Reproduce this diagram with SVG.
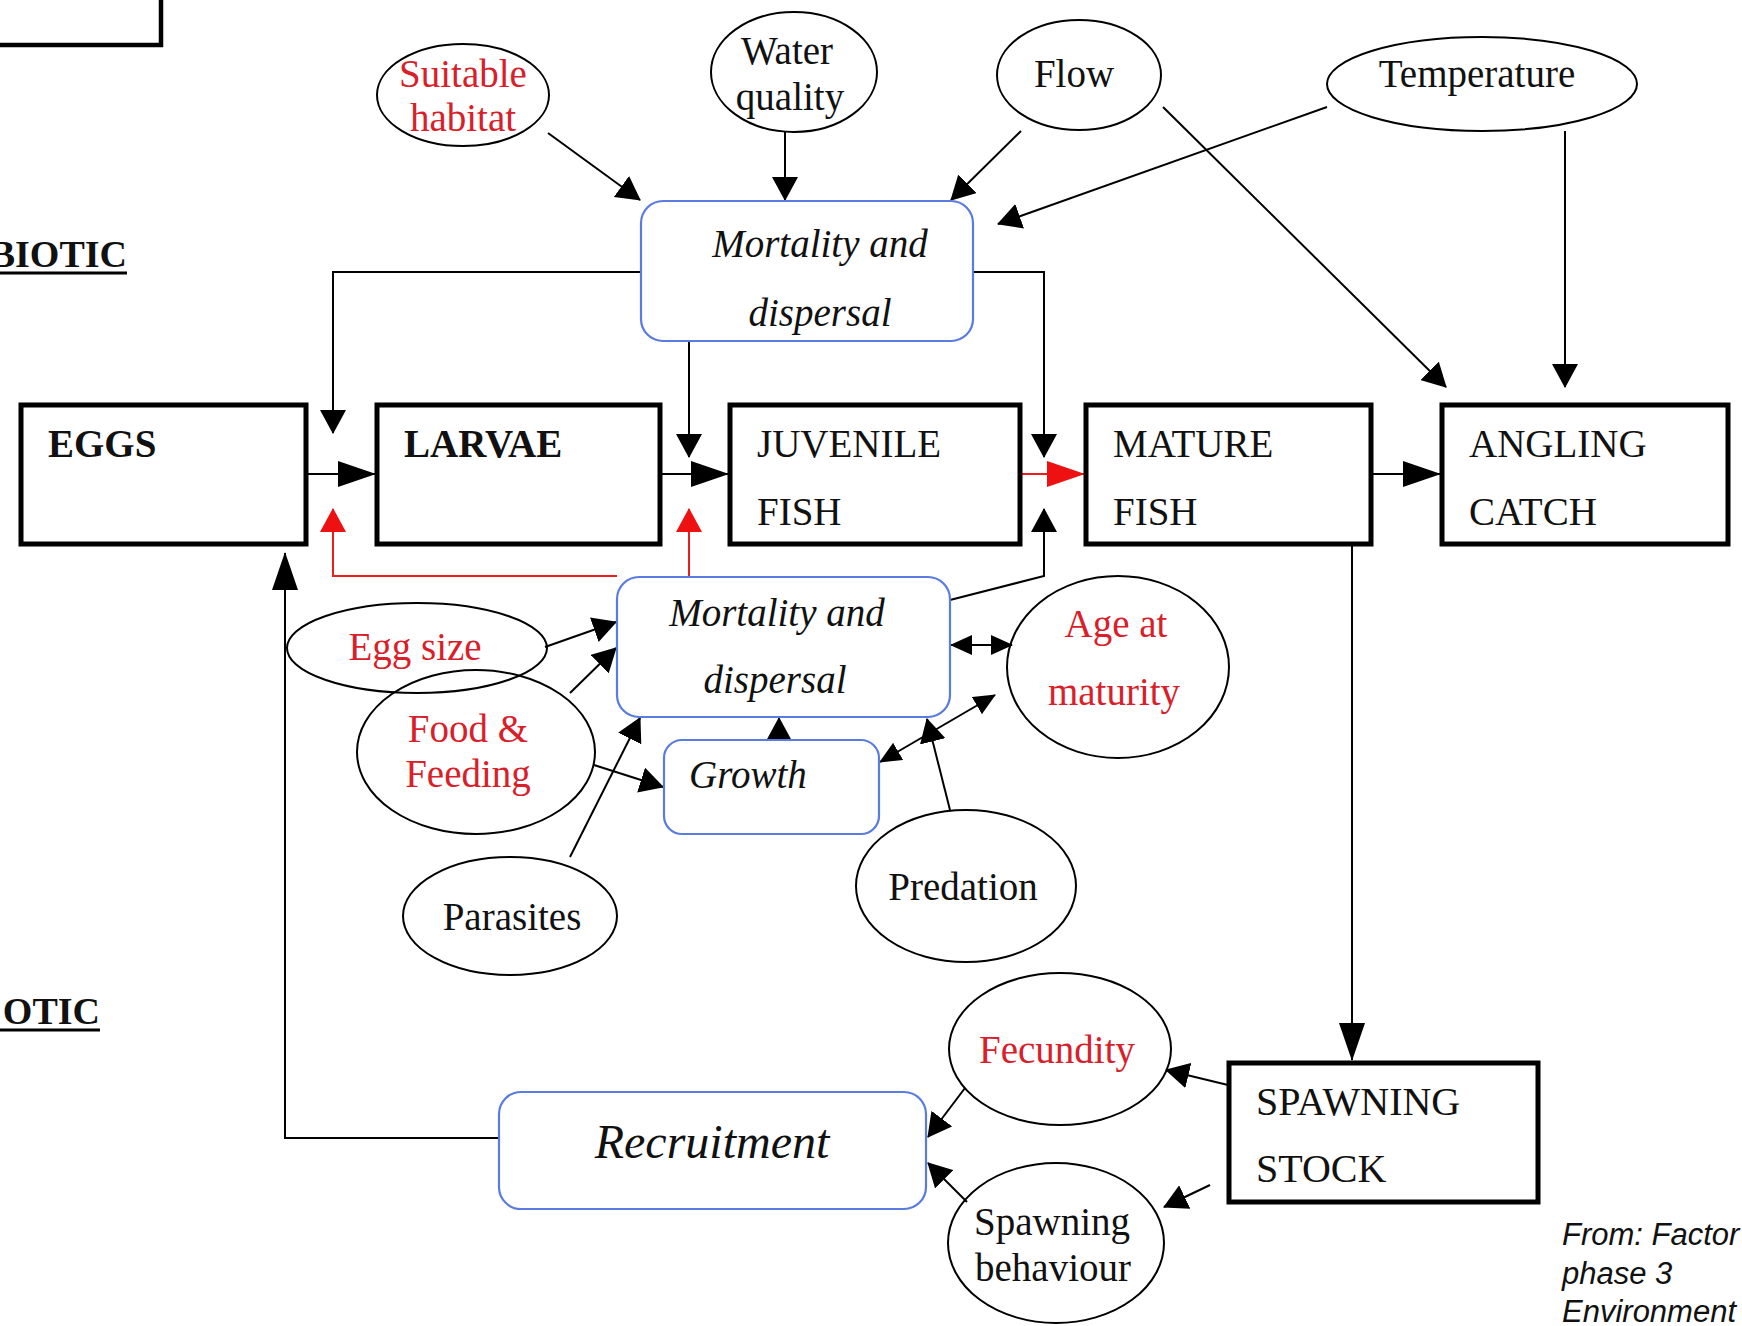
<svg xmlns="http://www.w3.org/2000/svg" width="1742" height="1326" viewBox="0 0 1742 1326">
<defs>
<style>
.box{fill:#fff;stroke:#000;stroke-width:5}
.rbox{fill:#fff;stroke:#5a7be0;stroke-width:2.2}
.ell{fill:none;stroke:#000;stroke-width:2}
.t{font-family:"Liberation Serif","Times New Roman",serif;font-size:39px;fill:#111}
.red{fill:#d9202a}
.it{font-style:italic}
.b{font-weight:bold}
.mid{text-anchor:middle}
.con{fill:none;stroke:#000;stroke-width:2}
.rcon{fill:none;stroke:#ee1c1c;stroke-width:2}
.src{font-family:"Liberation Sans",Arial,sans-serif;font-size:31px;font-style:italic;fill:#111}
</style>
<marker id="ah" viewBox="0 0 24 26" markerWidth="24" markerHeight="26" refX="23" refY="13" orient="auto" markerUnits="userSpaceOnUse"><path d="M0,0L24,13L0,26z" fill="#000"/></marker>
<marker id="ahb" viewBox="0 0 38 26" markerWidth="38" markerHeight="26" refX="37" refY="13" orient="auto" markerUnits="userSpaceOnUse"><path d="M0,0L38,13L0,26z" fill="#000"/></marker>
<marker id="ahr" viewBox="0 0 24 26" markerWidth="24" markerHeight="26" refX="23" refY="13" orient="auto" markerUnits="userSpaceOnUse"><path d="M0,0L24,13L0,26z" fill="#ee1111"/></marker>
<marker id="ahbr" viewBox="0 0 38 26" markerWidth="38" markerHeight="26" refX="37" refY="13" orient="auto" markerUnits="userSpaceOnUse"><path d="M0,0L38,13L0,26z" fill="#ee1111"/></marker>
<marker id="ahd" viewBox="0 0 22 20" markerWidth="22" markerHeight="20" refX="21" refY="10" orient="auto-start-reverse" markerUnits="userSpaceOnUse"><path d="M0,0L22,10L0,20z" fill="#000"/></marker>
</defs>
<rect width="1742" height="1326" fill="#fff"/>

<g id="frame-top"><rect x="-10" y="-10" width="171" height="55" fill="none" stroke="#000" stroke-width="4.5"/></g>
<g id="label-abiotic"><text class="t b" x="127" y="267" text-anchor="end" style="font-size:38px">BIOTIC</text><line x1="0" y1="273" x2="127" y2="273" stroke="#000" stroke-width="3"/></g>
<g id="label-biotic"><text class="t b" x="100" y="1024" text-anchor="end" style="font-size:38px">OTIC</text><line x1="0" y1="1030" x2="100" y2="1030" stroke="#000" stroke-width="3"/></g>

<g id="connectors">
<path class="con" d="M641,272H333V433" marker-end="url(#ah)"/>
<path class="con" d="M689,341V457" marker-end="url(#ah)"/>
<path class="con" d="M973,272H1044V457" marker-end="url(#ah)"/>
<path class="con" d="M306,474H375" marker-end="url(#ahb)"/>
<path class="con" d="M661,474H728" marker-end="url(#ahb)"/>
<path class="rcon" d="M1021,474H1084" marker-end="url(#ahbr)"/>
<path class="con" d="M1372,474H1440" marker-end="url(#ahb)"/>
<path class="con" d="M1352,545V1060" marker-end="url(#ahb)"/>
<path class="rcon" d="M617,576H333V509" marker-end="url(#ahr)"/>
<path class="rcon" d="M689,577V509" marker-end="url(#ahr)"/>
<path class="con" d="M950,600L1044,576V509" marker-end="url(#ah)"/>
<path class="con" d="M545,647L616,622" marker-end="url(#ah)"/>
<path class="con" d="M570,693L616,648" marker-end="url(#ah)"/>
<path class="con" d="M570,857L640,718" marker-end="url(#ah)"/>
<path class="con" d="M594,765L663,787" marker-end="url(#ah)"/>
<path class="con" d="M779,741V718" marker-end="url(#ah)"/>
<path class="con" d="M951,645H1012" marker-start="url(#ahd)" marker-end="url(#ahd)"/>
<path class="con" d="M880,762L995,695" marker-start="url(#ahd)" marker-end="url(#ahd)"/>
<path class="con" d="M950,810L927,719" marker-end="url(#ah)"/>
<path class="con" d="M548,133L640,200" marker-end="url(#ah)"/>
<path class="con" d="M785,131V200" marker-end="url(#ah)"/>
<path class="con" d="M1021,131L951,200" marker-end="url(#ah)"/>
<path class="con" d="M1327,107L998,224" marker-end="url(#ah)"/>
<path class="con" d="M1163,107L1446,387" marker-end="url(#ah)"/>
<path class="con" d="M1565,131V387" marker-end="url(#ah)"/>
<path class="con" d="M1228,1085L1166,1070" marker-end="url(#ah)"/>
<path class="con" d="M1210,1185L1164,1207" marker-end="url(#ah)"/>
<path class="con" d="M965,1088L928,1137" marker-end="url(#ah)"/>
<path class="con" d="M967,1202L928,1163" marker-end="url(#ah)"/>
<path class="con" d="M499,1138H285V553" marker-end="url(#ahb)"/>
</g>

<g id="eggs"><rect class="box" x="21" y="405" width="285" height="139"/><text class="t b" x="48" y="457">EGGS</text></g>
<g id="larvae"><rect class="box" x="377" y="405" width="283" height="139"/><text class="t b" x="404" y="457">LARVAE</text></g>
<g id="juvenile"><rect class="box" x="730" y="405" width="290" height="139"/><text class="t" x="757" y="457">JUVENILE</text><text class="t" x="757" y="525">FISH</text></g>
<g id="mature"><rect class="box" x="1086" y="405" width="285" height="139"/><text class="t" x="1113" y="457">MATURE</text><text class="t" x="1113" y="525">FISH</text></g>
<g id="angling"><rect class="box" x="1442" y="405" width="286" height="139"/><text class="t" x="1469" y="457">ANGLING</text><text class="t" x="1469" y="525">CATCH</text></g>
<g id="spawning-stock"><rect class="box" x="1229" y="1063" width="309" height="139"/><text class="t" x="1256" y="1115" style="font-size:40px">SPAWNING</text><text class="t" x="1256" y="1182" style="font-size:40px">STOCK</text></g>

<g id="mortality-top"><rect class="rbox" x="641" y="201" width="332" height="140" rx="22"/><text class="t it mid" x="820" y="257">Mortality and</text><text class="t it mid" x="820" y="326">dispersal</text></g>
<g id="mortality-low"><rect class="rbox" x="617" y="577" width="333" height="140" rx="22"/><text class="t it mid" x="777" y="626">Mortality and</text><text class="t it mid" x="775" y="693">dispersal</text></g>
<g id="growth"><rect class="rbox" x="664" y="740" width="215" height="94" rx="18"/><text class="t it" x="689" y="788">Growth</text></g>
<g id="recruitment"><rect class="rbox" x="499" y="1092" width="427" height="117" rx="22"/><text class="t it mid" x="712" y="1158" style="font-size:48px">Recruitment</text></g>

<g id="suitable-habitat"><ellipse class="ell" cx="463" cy="95" rx="86" ry="51"/><text class="t red mid" x="463" y="87">Suitable</text><text class="t red mid" x="463" y="131">habitat</text></g>
<g id="water-quality"><ellipse class="ell" cx="794" cy="72" rx="83" ry="60"/><text class="t mid" x="787" y="64">Water</text><text class="t mid" x="790" y="110">quality</text></g>
<g id="flow"><ellipse class="ell" cx="1079" cy="75" rx="82" ry="55"/><text class="t mid" x="1074" y="87">Flow</text></g>
<g id="temperature"><ellipse class="ell" cx="1482" cy="84" rx="155" ry="47"/><text class="t mid" x="1477" y="87">Temperature</text></g>
<g id="egg-size"><ellipse class="ell" cx="417" cy="648" rx="130" ry="45"/><text class="t red mid" x="415" y="660">Egg size</text></g>
<g id="food-feeding"><ellipse class="ell" cx="476" cy="752" rx="119" ry="82"/><text class="t red mid" x="468" y="742">Food &amp;</text><text class="t red mid" x="468" y="787">Feeding</text></g>
<g id="parasites"><ellipse class="ell" cx="510" cy="916" rx="107" ry="59"/><text class="t mid" x="512" y="930">Parasites</text></g>
<g id="predation"><ellipse class="ell" cx="966" cy="886" rx="110" ry="76"/><text class="t mid" x="963" y="900">Predation</text></g>
<g id="age-maturity"><ellipse class="ell" cx="1118" cy="667" rx="111" ry="91"/><text class="t red mid" x="1116" y="637">Age at</text><text class="t red mid" x="1114" y="705">maturity</text></g>
<g id="fecundity"><ellipse class="ell" cx="1060" cy="1049" rx="111" ry="76"/><text class="t red mid" x="1057" y="1063">Fecundity</text></g>
<g id="spawning-behaviour"><ellipse class="ell" cx="1056" cy="1243" rx="108" ry="80"/><text class="t mid" x="1052" y="1235">Spawning</text><text class="t mid" x="1053" y="1281">behaviour</text></g>

<g id="source"><text class="src" x="1562" y="1245">From: Factor</text><text class="src" x="1562" y="1284">phase 3</text><text class="src" x="1562" y="1322">Environment</text></g>
</svg>
